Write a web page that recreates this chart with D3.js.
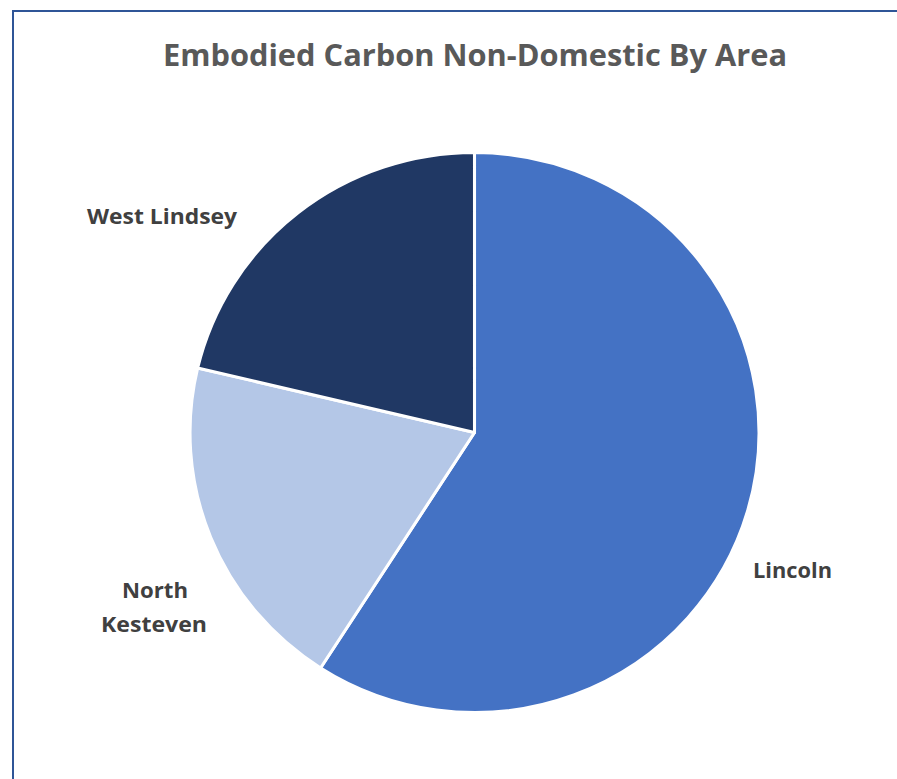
<!DOCTYPE html>
<html><head><meta charset="utf-8">
<script src="https://cdn.jsdelivr.net/npm/d3@7"></script>
<style>body{margin:0;background:#fff;} svg{display:block;}</style>
</head><body>
<svg id="c" width="897" height="779"></svg>
<script>
const categories = ["Lincoln", "North Kesteven", "West Lindsey"];
const values = [59.1, 19.6, 21.3];
const colors = ["#4472C4", "#B4C7E7", "#203864"];
const labelLines = [["Lincoln"], ["North", "Kesteven"], ["West Lindsey"]];
// [x start, baseline, width] per line
const labelBoxes = [[[753, 578, 79]], [[122, 598, 66], [101, 632, 106]], [[87, 224, 150]]];

const svg = d3.select("#c");
svg.append("path").attr("d", "M13,779 L13,11 L897,11")
  .attr("fill", "none").attr("stroke", "#2F5597").attr("stroke-width", 2);

svg.append("text").attr("x", 163).attr("y", 66)
  .attr("font-family", "Open Sans, sans-serif").attr("font-weight", "bold")
  .attr("font-size", 31).attr("fill", "#595959").attr("textLength", 624)
  .attr("lengthAdjust", "spacingAndGlyphs")
  .text("Embodied Carbon Non-Domestic By Area");

const cx = 474.5, cy = 432.5, r = 280, sx = 1.016;
const data = categories.map((c, i) => ({cat: c, v: values[i], i}));
const pie = d3.pie().value(d => d.v).sort(null);
const arc = d3.arc().innerRadius(0).outerRadius(r);
const g = svg.append("g").attr("transform", `translate(${cx},${cy}) scale(${sx},1)`);
g.selectAll("path").data(pie(data)).join("path")
  .attr("d", arc).attr("fill", d => colors[d.data.i])
  .attr("stroke", "#fff").attr("stroke-width", 3).attr("stroke-linejoin", "round");

data.forEach((d, i) => {
  labelLines[i].forEach((ln, k) => {
    const b = labelBoxes[i][k];
    svg.append("text").attr("x", b[0]).attr("y", b[1])
      .attr("font-family", "Open Sans, sans-serif").attr("font-weight", "bold")
      .attr("font-size", 21).attr("fill", "#404040")
      .attr("textLength", b[2]).attr("lengthAdjust", "spacingAndGlyphs")
      .text(ln);
  });
});
</script>
</body></html>
